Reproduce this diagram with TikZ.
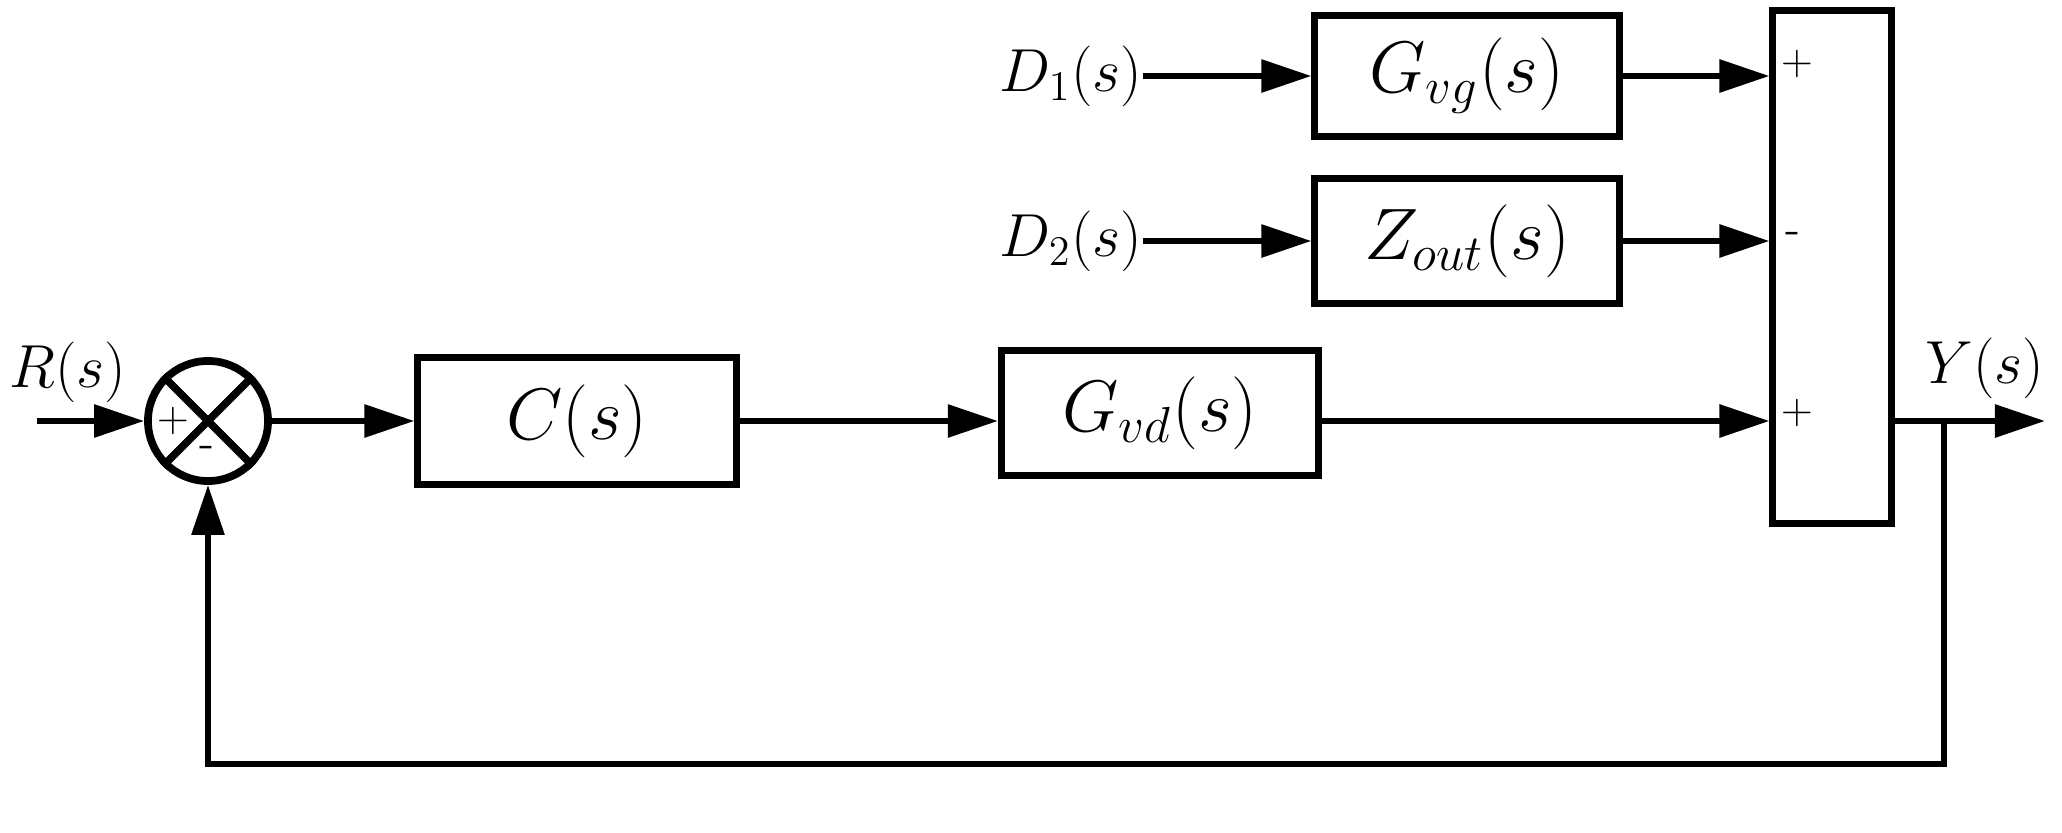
\documentclass[tikz,border=0pt]{standalone}
\usetikzlibrary{arrows.meta,calc}
\begin{document}
\begin{tikzpicture}[x=0.01cm,y=-0.01cm,
  box/.style={draw,line width=2pt,inner sep=0pt,font=\fontsize{20}{24}\selectfont},
  sig/.style={-{Triangle[length=0.5cm,width=0.32cm]},line width=1.7pt},
  lbl/.style={inner sep=0pt,font=\fontsize{18}{21}\selectfont},
  sgn/.style={inner sep=0pt,font=\fontsize{13}{15}\selectfont}]
\useasboundingbox (0,0) rectangle (2062,833);
% blocks
\node[circle,draw,line width=2.2pt,minimum size=1.2cm,inner sep=0pt] (sum) at (208,421) {};
\draw[line width=2.2pt] (sum.45) -- (sum.225) (sum.135) -- (sum.-45);
\node[box,minimum width=3.18cm,minimum height=1.27cm] (C) at (577,421) {$C(s)$};
\node[box,minimum width=3.17cm,minimum height=1.24cm] (Gvd) at (1160,413) {$G_{vd}(s)$};
\node[box,minimum width=3.04cm,minimum height=1.2cm] (Gvg) at (1467,76) {$G_{vg}(s)$};
\node[box,minimum width=3.04cm,minimum height=1.24cm] (Zout) at (1467,241) {$Z_{out}(s)$};
\node[box,minimum width=1.18cm,minimum height=5.12cm] (S) at (1832,267) {};
% labels
\node[lbl,anchor=east] (D1) at (1143,76) {$D_1(s)$};
\node[lbl,anchor=east] (D2) at (1143,241) {$D_2(s)$};
\node[lbl] (R) at (68,372) {$R(s)$};
\node[lbl] (Y) at (1985,368) {$Y(s)$};
% signs
\node[sgn] (s1) at (173,421) {$+$};
\node[sgn] (s2) at (207,452) {-};
\node[sgn] (s3) at (1797,64) {$+$};
\node[sgn] (s4) at (1793,238) {-};
\node[sgn] (s5) at (1797,413) {$+$};
% coordinates
\coordinate (in) at (37,421);
\coordinate (br) at (1944,421);
\coordinate (out) at (2045,421);
\coordinate (fb) at (1944,764);
% connectors
\draw[sig] (in) -- (sum.west);
\draw[sig] (sum.east) -- (C.west);
\draw[sig] (C.east) -- (C.east -| Gvd.west);
\draw[sig] (Gvd.east |- C.east) -- (C.east -| S.west);
\draw[sig] (D1.east) -- (Gvg.west);
\draw[sig] (Gvg.east) -- (Gvg.east -| S.west);
\draw[sig] (D2.east) -- (Zout.west);
\draw[sig] (Zout.east) -- (Zout.east -| S.west);
\draw[sig] (S.east |- C.east) -- (out);
\draw[sig] (br) -- (fb) -| (sum.south);
\end{tikzpicture}
\end{document}
